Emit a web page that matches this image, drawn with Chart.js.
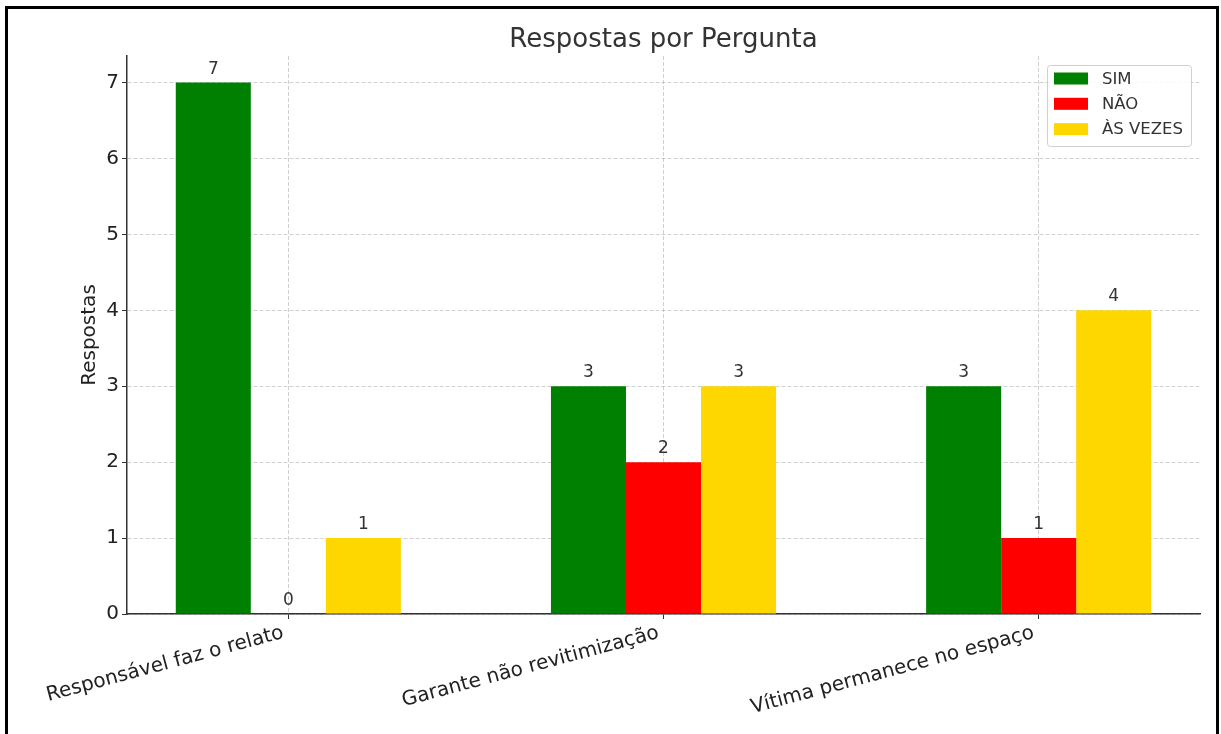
<!DOCTYPE html>
<html>
<head>
<meta charset="utf-8">
<script src="https://cdn.jsdelivr.net/npm/chart.js@4.4.1/dist/chart.umd.min.js"></script>
<style>
  html, body { margin: 0; padding: 0; background: #fff; width: 1221px; height: 734px; overflow: hidden; }
  #frame { position: absolute; left: 5px; top: 6px; width: 1214px; height: 800px; border: 3px solid #000; box-sizing: border-box; }
  #c { position: absolute; left: 0; top: 0; }
</style>
</head>
<body>
<div id="frame"></div>
<canvas id="c" width="1221" height="734"></canvas>
<script>
const categories = ["Responsável faz o relato", "Garante não revitimização", "Vítima permanece no espaço"];
const seriesNames = ["SIM", "NÃO", "ÀS VEZES"];
const simValues = [7, 3, 3];
const naoValues = [0, 2, 1];
const asVezesValues = [1, 3, 4];
const yTicks = [0, 1, 2, 3, 4, 5, 6, 7];
const chartTitle = "Respostas por Pergunta";
const yTitle = "Respostas";

const colors = ["#008000", "#FF0000", "#FFD700"];
const FONT = "'DejaVu Sans', 'Liberation Sans', sans-serif";

function toPoints(vals) { return vals.map((v, i) => ({ x: i, y: v })); }

const datasets = [simValues, naoValues, asVezesValues].map((vals, k) => ({
  label: seriesNames[k],
  data: toPoints(vals),
  backgroundColor: colors[k],
  borderWidth: 0,
  categoryPercentage: 0.6,
  barPercentage: 1.0
}));

const overlayPlugin = {
  id: 'overlay',
  afterDraw(chart) {
    const ctx = chart.ctx;
    const area = chart.chartArea;
    ctx.save();
    // value labels
    ctx.fillStyle = '#333';
    ctx.font = '17px ' + FONT;
    ctx.textAlign = 'center';
    ctx.textBaseline = 'alphabetic';
    chart.data.datasets.forEach((ds, di) => {
      const meta = chart.getDatasetMeta(di);
      meta.data.forEach((bar, i) => {
        ctx.fillText(String(ds.data[i].y), bar.x, bar.y - 9);
      });
    });
    // title
    ctx.fillStyle = '#333';
    ctx.font = '26px ' + FONT;
    ctx.textAlign = 'center';
    ctx.fillText(chartTitle, (area.left + area.right) / 2, 47);
    // legend
    const lx = 1047, ly = 65, lw = 144, lh = 81;
    ctx.fillStyle = 'rgba(255,255,255,0.85)';
    ctx.strokeStyle = '#d0d0d0';
    ctx.lineWidth = 1;
    ctx.beginPath();
    if (ctx.roundRect) ctx.roundRect(lx + 0.5, ly + 0.5, lw, lh, 3); else ctx.rect(lx + 0.5, ly + 0.5, lw, lh);
    ctx.fill();
    ctx.stroke();
    ctx.font = '16.5px ' + FONT;
    ctx.textAlign = 'left';
    ctx.textBaseline = 'middle';
    chart.data.datasets.forEach((ds, di) => {
      const cy = 78.5 + di * 25.3;
      ctx.fillStyle = ds.backgroundColor;
      ctx.fillRect(1054, cy - 6, 34, 12);
      ctx.fillStyle = '#333';
      ctx.fillText(ds.label, 1102, cy + 1);
    });
    ctx.restore();
  }
};

new Chart(document.getElementById('c'), {
  type: 'bar',
  data: { datasets },
  plugins: [overlayPlugin],
  options: {
    responsive: false,
    devicePixelRatio: 1,
    animation: false,
    layout: { padding: { top: 56, right: 21, bottom: 0, left: 0 } },
    plugins: { legend: { display: false }, title: { display: false }, tooltip: { enabled: false } },
    scales: {
      x: {
        type: 'linear',
        min: -0.43,
        max: 2.43,
        offset: false,
        z: 1,
        afterBuildTicks(scale) { scale.ticks = categories.map((c, i) => ({ value: i })); },
        afterFit(scale) { scale.height = 120; },
        ticks: {
          autoSkip: false,
          minRotation: 15,
          maxRotation: 15,
          padding: 2,
          labelOffset: -5,
          color: '#222',
          font: { family: FONT, size: 20 },
          callback: (v) => categories[v]
        },
        grid: {
          offset: false,
          color: 'rgba(150,150,150,0.45)',
          lineWidth: 1,
          tickLength: 5,
          tickColor: '#333',
          tickWidth: 1,
          tickBorderDash: []
        },
        border: { display: true, color: '#333', width: 1.5, dash: [4, 2] }
      },
      y: {
        min: 0,
        max: 7.35,
        z: 1,
        afterBuildTicks(scale) { scale.ticks = yTicks.map(v => ({ value: v })); },
        afterFit(scale) { scale.width = 127; },
        ticks: {
          padding: 3,
          color: '#222',
          font: { family: FONT, size: 20 }
        },
        title: {
          display: true,
          text: yTitle,
          color: '#222',
          font: { family: FONT, size: 20 },
          padding: { top: 78, bottom: 0 }
        },
        grid: {
          color: 'rgba(150,150,150,0.45)',
          lineWidth: 1,
          tickLength: 5,
          tickColor: '#333',
          tickWidth: 1,
          tickBorderDash: []
        },
        border: { display: true, color: '#333', width: 1.5, dash: [4, 2] }
      }
    }
  }
});
</script>
</body>
</html>
